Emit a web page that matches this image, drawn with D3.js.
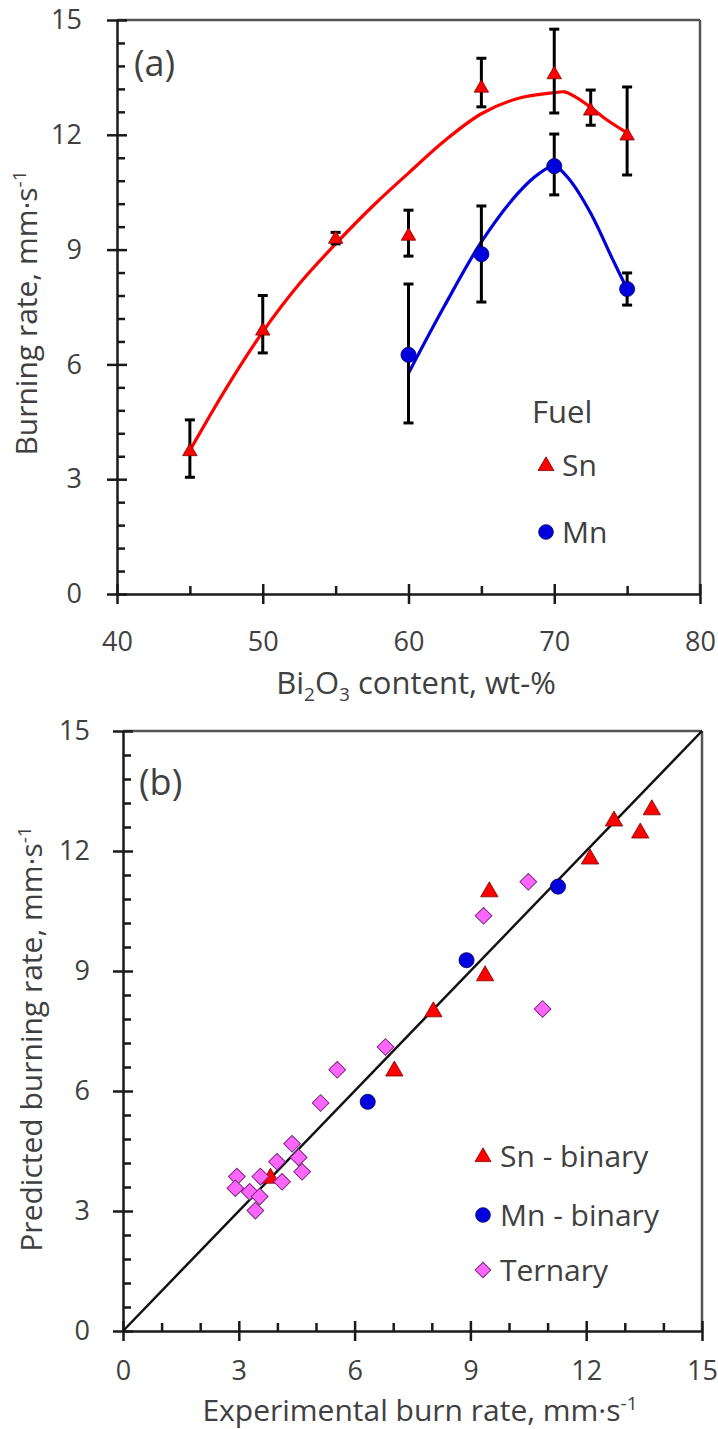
<!DOCTYPE html>
<html>
<head>
<meta charset="utf-8">
<script src="https://cdn.jsdelivr.net/npm/d3@7"></script>
<style>
  body { margin: 0; background: #fff; }
  text { font-family: "Open Sans", sans-serif; fill: #404040; }
</style>
</head>
<body>
<div id="chart"></div>
<script>
// ---- data, panel (a): burning rate vs Bi2O3 content ----
var snX = [45, 50, 55, 60, 65, 70, 72.5, 75];
var snRate = [3.75, 6.9, 9.3, 9.38, 13.25, 13.6, 12.65, 12.0];
var snLow = [3.05, 6.3, 9.15, 8.83, 12.73, 12.57, 12.25, 10.95];
var snHigh = [4.55, 7.8, 9.45, 10.03, 14.0, 14.76, 13.17, 13.25];

var mnX = [60, 65, 70, 75];
var mnRate = [6.25, 8.88, 11.18, 7.97];
var mnLow = [4.47, 7.63, 10.43, 7.55];
var mnHigh = [8.1, 10.14, 12.02, 8.39];

// fitted curves
var snFitX = [45, 47.5, 50, 52.5, 55, 57.5, 60, 62.5, 65, 67.5, 70, 70.7, 71.5, 72.5, 73.5, 75];
var snFitY = [3.75, 5.38, 6.85, 8.1, 9.15, 10.12, 11.0, 11.85, 12.55, 12.95, 13.1, 13.12, 12.98, 12.72, 12.42, 12.05];
var mnFitX = [60, 62.5, 65, 67.5, 69, 70, 71, 72.5, 74, 75];
var mnFitY = [5.77, 7.55, 9.2, 10.47, 11.0, 11.18, 10.85, 9.95, 8.75, 7.97];

var aXTicks = [40, 50, 60, 70, 80];
var aXMinor = [45, 55, 65, 75];
var rateTicks = [0, 3, 6, 9, 12, 15];
var rateMinor = [0.6, 1.2, 1.8, 2.4, 3.6, 4.2, 4.8, 5.4, 6.6, 7.2, 7.8, 8.4, 9.6, 10.2, 10.8, 11.4, 12.6, 13.2, 13.8, 14.4];

// ---- data, panel (b): predicted vs experimental ----
var snBinExp = [13.7, 12.72, 13.4, 12.1, 9.49, 9.38, 8.04, 7.03, 3.82];
var snBinPred = [13.03, 12.75, 12.45, 11.8, 10.98, 8.88, 7.98, 6.5, 3.82];
var mnBinExp = [11.27, 8.9, 6.34];
var mnBinPred = [11.11, 9.27, 5.73];
var ternExp = [10.5, 9.34, 10.87, 6.8, 5.55, 5.12, 4.38, 4.55, 3.99, 4.64, 4.12, 3.56, 2.95, 2.91, 3.28, 3.54, 3.43];
var ternPred = [11.23, 10.38, 8.05, 7.1, 6.53, 5.7, 4.68, 4.34, 4.23, 3.98, 3.73, 3.86, 3.86, 3.57, 3.48, 3.36, 3.01];

var bXTicks = [0, 3, 6, 9, 12, 15];
var bXMinor = [1, 2, 4, 5, 7, 8, 10, 11, 13, 14];

var svg = d3.select('#chart').append('svg')
  .attr('width', 718)
  .attr('height', 1429);
svg.append('rect').attr('width', 718).attr('height', 1429).attr('fill', '#fff');

var AXIS = '#1a1a1a';
var RED = '#ff0000', BLUE = '#0000dd', PINK = '#ff66ff';

function styleAxis(g) {
  g.selectAll('path, line').attr('stroke', AXIS).attr('stroke-width', 2.5);
  g.selectAll('text').attr('fill', '#404040').style('font-size', '27px')
    .style('font-family', '"Open Sans", sans-serif');
}

// axes with ticks crossing the line for majors and inside-only minors
function drawFrame(x, y, xMajor, xMinor, yMajor, yMinor, yPad, xPad) {
  var x0 = x.range()[0], x1 = x.range()[1];
  var y0 = y.range()[0], y1 = y.range()[1];

  // top and right border
  svg.append('line').attr('x1', x0).attr('x2', x1).attr('y1', y1).attr('y2', y1)
    .attr('stroke', '#555').attr('stroke-width', 2.5);
  svg.append('line').attr('x1', x1).attr('x2', x1).attr('y1', y0).attr('y2', y1)
    .attr('stroke', '#555').attr('stroke-width', 2.5);

  var gl = svg.append('g').attr('transform', 'translate(' + x0 + ',0)')
    .call(d3.axisLeft(y).tickValues(yMajor).tickSize(10).tickSizeOuter(0).tickPadding(yPad));
  styleAxis(gl);
  var gr = svg.append('g').attr('transform', 'translate(' + x0 + ',0)')
    .call(d3.axisRight(y).tickValues(yMajor).tickSize(10).tickFormat(''));
  gr.select('.domain').remove();
  styleAxis(gr);
  var gm = svg.append('g').attr('transform', 'translate(' + x0 + ',0)')
    .call(d3.axisRight(y).tickValues(yMinor).tickSize(8).tickFormat(''));
  gm.select('.domain').remove();
  styleAxis(gm);

  var gb = svg.append('g').attr('transform', 'translate(0,' + y0 + ')')
    .call(d3.axisBottom(x).tickValues(xMajor).tickSize(10).tickSizeOuter(0).tickPadding(xPad));
  styleAxis(gb);
  var gt = svg.append('g').attr('transform', 'translate(0,' + y0 + ')')
    .call(d3.axisTop(x).tickValues(xMajor).tickSize(10).tickFormat(''));
  gt.select('.domain').remove();
  styleAxis(gt);
  var gn = svg.append('g').attr('transform', 'translate(0,' + y0 + ')')
    .call(d3.axisTop(x).tickValues(xMinor).tickSize(8).tickFormat(''));
  gn.select('.domain').remove();
  styleAxis(gn);
}

function unitTitle(t, prefix) {
  t.append('tspan').text(prefix + 'mm·s');
  t.append('tspan').attr('dy', -11).style('font-size', '19px').text('-1');
}

var triangle = d3.symbol().type(d3.symbolTriangle);
var circle = d3.symbol().type(d3.symbolCircle);
var square = d3.symbol().type(d3.symbolSquare);

// ================= panel (a) =================
var xa = d3.scaleLinear().domain([40, 80]).range([117, 700]);
var ya = d3.scaleLinear().domain([0, 15]).range([594, 20]);

drawFrame(xa, ya, aXTicks, aXMinor, rateTicks, rateMinor, 25, 28);

var line = function (sx, sy) {
  return d3.line().x(function (d) { return sx(d[0]); }).y(function (d) { return sy(d[1]); })
    .curve(d3.curveCatmullRom.alpha(0.5));
};

svg.append('path').datum(d3.zip(snFitX, snFitY))
  .attr('d', line(xa, ya)).attr('fill', 'none').attr('stroke', RED).attr('stroke-width', 3.2);
svg.append('path').datum(d3.zip(mnFitX, mnFitY))
  .attr('d', line(xa, ya)).attr('fill', 'none').attr('stroke', BLUE).attr('stroke-width', 3.2);

function errorBars(xs, lo, hi) {
  var g = svg.append('g').attr('stroke', '#000').attr('stroke-width', 3);
  xs.forEach(function (v, i) {
    g.append('line').attr('x1', xa(v)).attr('x2', xa(v)).attr('y1', ya(lo[i])).attr('y2', ya(hi[i]));
    g.append('line').attr('x1', xa(v) - 5).attr('x2', xa(v) + 5).attr('y1', ya(lo[i])).attr('y2', ya(lo[i]));
    g.append('line').attr('x1', xa(v) - 5).attr('x2', xa(v) + 5).attr('y1', ya(hi[i])).attr('y2', ya(hi[i]));
  });
}
errorBars(snX, snLow, snHigh);
errorBars(mnX, mnLow, mnHigh);

svg.append('g').selectAll('path').data(d3.zip(snX, snRate)).enter().append('path')
  .attr('d', triangle.size(90)())
  .attr('transform', function (d) { return 'translate(' + xa(d[0]) + ',' + (ya(d[1]) + 1) + ')'; })
  .attr('fill', RED).attr('stroke', '#7a0000').attr('stroke-width', 0.8);
svg.append('g').selectAll('path').data(d3.zip(mnX, mnRate)).enter().append('path')
  .attr('d', circle.size(180)())
  .attr('transform', function (d) { return 'translate(' + xa(d[0]) + ',' + ya(d[1]) + ')'; })
  .attr('fill', BLUE).attr('stroke', '#000060').attr('stroke-width', 0.8);

svg.append('text').attr('x', 134).attr('y', 76).style('font-size', '36px').text('(a)');

// legend (a)
svg.append('text').attr('x', 532).attr('y', 423).style('font-size', '31px').text('Fuel');
svg.append('path').attr('d', triangle.size(110)()).attr('transform', 'translate(546,466)')
  .attr('fill', RED).attr('stroke', '#7a0000').attr('stroke-width', 0.8);
svg.append('text').attr('x', 562).attr('y', 476).style('font-size', '30px').text('Sn');
svg.append('path').attr('d', circle.size(170)()).attr('transform', 'translate(546,532)')
  .attr('fill', BLUE).attr('stroke', '#000060').attr('stroke-width', 0.8);
svg.append('text').attr('x', 562).attr('y', 543).style('font-size', '30px').text('Mn');

// axis titles (a)
var ta = svg.append('text').attr('x', 416).attr('y', 694).attr('text-anchor', 'middle').style('font-size', '31px');
ta.append('tspan').text('Bi');
ta.append('tspan').attr('dy', 7).style('font-size', '19px').text('2');
ta.append('tspan').attr('dy', -7).text('O');
ta.append('tspan').attr('dy', 7).style('font-size', '19px').text('3');
ta.append('tspan').attr('dy', -7).text(' content, wt-%');

var tya = svg.append('text').attr('transform', 'translate(37,313) rotate(-90)')
  .attr('text-anchor', 'middle').style('font-size', '30px');
unitTitle(tya, 'Burning rate, ');

// ================= panel (b) =================
var xb = d3.scaleLinear().domain([0, 15]).range([123, 702]);
var yb = d3.scaleLinear().domain([0, 15]).range([1331, 731]);

drawFrame(xb, yb, bXTicks, bXMinor, rateTicks, rateMinor, 23, 20);

svg.append('line').attr('x1', xb(0)).attr('y1', yb(0)).attr('x2', xb(15)).attr('y2', yb(15))
  .attr('stroke', '#111').attr('stroke-width', 2.5);

svg.append('g').selectAll('path').data(d3.zip(snBinExp, snBinPred)).enter().append('path')
  .attr('d', triangle.size(130)())
  .attr('transform', function (d) { return 'translate(' + xb(d[0]) + ',' + yb(d[1]) + ')'; })
  .attr('fill', RED).attr('stroke', '#7a0000').attr('stroke-width', 0.8);
svg.append('g').selectAll('path').data(d3.zip(mnBinExp, mnBinPred)).enter().append('path')
  .attr('d', circle.size(180)())
  .attr('transform', function (d) { return 'translate(' + xb(d[0]) + ',' + yb(d[1]) + ')'; })
  .attr('fill', BLUE).attr('stroke', '#000060').attr('stroke-width', 0.8);
svg.append('g').selectAll('path').data(d3.zip(ternExp, ternPred)).enter().append('path')
  .attr('d', square.size(140)())
  .attr('transform', function (d) { return 'translate(' + xb(d[0]) + ',' + yb(d[1]) + ') rotate(45)'; })
  .attr('fill', PINK).attr('stroke', '#7a2a7a').attr('stroke-width', 1);

svg.append('text').attr('x', 139).attr('y', 795).style('font-size', '36px').text('(b)');

// legend (b)
svg.append('path').attr('d', triangle.size(110)()).attr('transform', 'translate(483,1157)')
  .attr('fill', RED).attr('stroke', '#7a0000').attr('stroke-width', 0.8);
svg.append('text').attr('x', 500).attr('y', 1167).style('font-size', '30px').text('Sn - binary');
svg.append('path').attr('d', circle.size(170)()).attr('transform', 'translate(483,1215)')
  .attr('fill', BLUE).attr('stroke', '#000060').attr('stroke-width', 0.8);
svg.append('text').attr('x', 500).attr('y', 1226).style('font-size', '30px').text('Mn - binary');
svg.append('path').attr('d', square.size(120)()).attr('transform', 'translate(483,1270) rotate(45)')
  .attr('fill', PINK).attr('stroke', '#7a2a7a').attr('stroke-width', 1);
svg.append('text').attr('x', 500).attr('y', 1281).style('font-size', '30px').text('Ternary');

var tb = svg.append('text').attr('x', 420).attr('y', 1421).attr('text-anchor', 'middle').style('font-size', '30px');
unitTitle(tb, 'Experimental burn rate, ');

var tyb = svg.append('text').attr('transform', 'translate(42,1039) rotate(-90)')
  .attr('text-anchor', 'middle').style('font-size', '30px');
unitTitle(tyb, 'Predicted burning rate, ');
</script>
</body>
</html>
